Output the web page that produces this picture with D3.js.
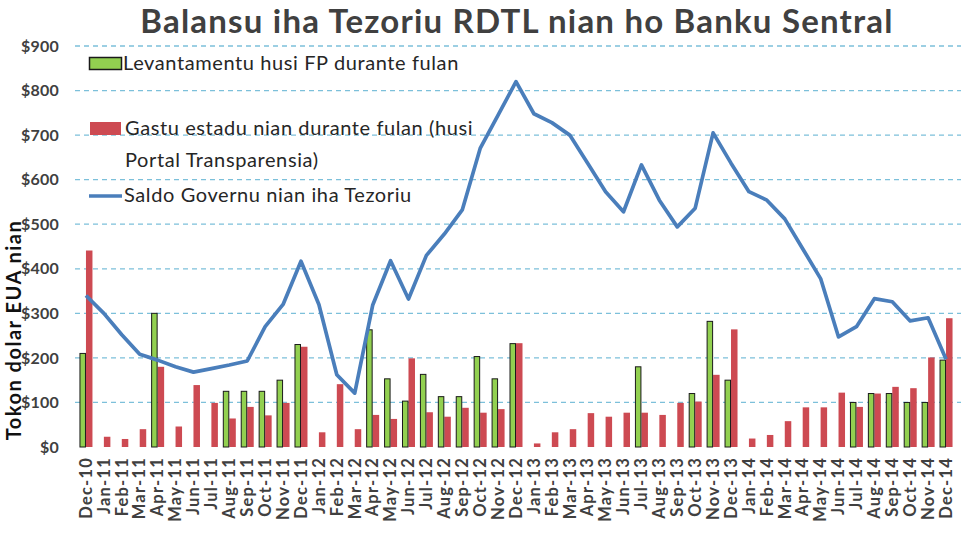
<!DOCTYPE html>
<html>
<head>
<meta charset="utf-8">
<script src="https://cdn.jsdelivr.net/npm/d3@7"></script>
<style>
  html, body { margin: 0; padding: 0; background: #fff; }
  svg { display: block; font-family: Lato, "Open Sans", sans-serif; }
</style>
</head>
<body>
<svg id="chart"></svg>
<script>
const greenColor = "#92d050"
const redColor = "#cd4a52"
const lineColor = "#4a7ebb"

// 1. DATA *******************************
const months = [
  "Dec-10",
  "Jan-11", "Feb-11", "Mar-11", "Apr-11", "May-11", "Jun-11",
  "Jul-11", "Aug-11", "Sep-11", "Oct-11", "Nov-11", "Dec-11",
  "Jan-12", "Feb-12", "Mar-12", "Apr-12", "May-12", "Jun-12",
  "Jul-12", "Aug-12", "Sep-12", "Oct-12", "Nov-12", "Dec-12",
  "Jan-13", "Feb-13", "Mar-13", "Apr-13", "May-13", "Jun-13",
  "Jul-13", "Aug-13", "Sep-13", "Oct-13", "Nov-13", "Dec-13",
  "Jan-14", "Feb-14", "Mar-14", "Apr-14", "May-14", "Jun-14",
  "Jul-14", "Aug-14", "Sep-14", "Oct-14", "Nov-14", "Dec-14"
]

// Levantamentu husi FP (green bars), null = no withdrawal that month
const levantamentu = [
  210,
  null, null, null, 300, null, null,
  null, 125, 125, 125, 150, 230,
  null, null, null, 263, 153, 103,
  163, 113, 113, 203, 153, 232,
  null, null, null, null, null, null,
  180, null, null, 120, 282, 150,
  null, null, null, null, null, null,
  100, 120, 120, 100, 100, 195
]

// Gastu estadu (red bars)
const gastu = [
  441,
  23, 18, 40, 180, 46, 139,
  99, 64, 90, 71, 99, 225,
  33, 141, 40, 72, 63, 199,
  78, 68, 88, 77, 85, 233,
  8, 33, 40, 76, 68, 77,
  77, 72, 99, 102, 162, 264,
  19, 27, 58, 89, 89, 122,
  90, 120, 135, 132, 201, 289
]

// Saldo Governu iha Tezoriu (blue line)
const saldo = [
  340,
  300, 252, 208, 195, 180, 168,
  176, 184, 193, 270, 320, 417,
  320, 162, 121, 318, 418, 332,
  430, 478, 532, 670, 745, 820,
  748, 728, 700, 637, 573, 528,
  633, 554, 494, 536, 705, 637,
  573, 554, 512, 445, 378, 247,
  270, 333, 326, 283, 290, 197
]

const yTicks = [0, 100, 200, 300, 400, 500, 600, 700, 800, 900]

const data = months.map((m, i) => ({
  month: m,
  lev: levantamentu[i],
  gastu: gastu[i],
  saldo: saldo[i]
}))

// 2. CANVAS *******************************
const W = 961
const H = 535
const plot = { left: 77, right: 955, top: 46, bottom: 447 }

const svg = d3.select("#chart")
  .attr("width", W)
  .attr("height", H)

svg.append("rect")
  .attr("width", W)
  .attr("height", H)
  .attr("fill", "#fff")

// 3. SCALES *******************************
const xScale = d3.scaleBand()
  .domain(months)
  .range([plot.left, plot.right])
  .padding(0)

const yScale = d3.scaleLinear()
  .domain([0, 900])
  .range([plot.bottom, plot.top])

const cx = d => xScale(d) + xScale.bandwidth() / 2
const barW = 6.5

// gridlines
svg.append("g")
  .selectAll("line")
  .data(yTicks.filter(d => d > 0))
  .enter().append("line")
  .attr("x1", 75)
  .attr("x2", W)
  .attr("y1", d => yScale(d))
  .attr("y2", d => yScale(d))
  .attr("stroke", "#7cc0da")
  .attr("stroke-width", 1.3)
  .attr("stroke-dasharray", "5,4")

// 4. AXES *******************************
const yAxis = svg.append("g")
  .attr("transform", "translate(60, 0)")
  .call(d3.axisLeft(yScale).tickValues(yTicks).tickSize(0).tickFormat(d => "$" + d))
yAxis.select(".domain").remove()
yAxis.selectAll("text")
  .attr("x", -1)
  .attr("fill", "#404040")
  .attr("font-size", "16px")
  .attr("font-weight", "bold")
  .attr("letter-spacing", "0.2px")
  .attr("font-family", "Lato, sans-serif")

const xAxis = svg.append("g")
  .attr("transform", `translate(0, ${plot.bottom})`)
  .call(d3.axisBottom(xScale).tickSize(0))
xAxis.select(".domain").remove()
xAxis.selectAll("text")
  .attr("transform", "rotate(-90)")
  .attr("text-anchor", "end")
  .attr("dy", "0.35em")
  .attr("x", -10)
  .attr("y", 0)
  .attr("fill", "#404040")
  .attr("font-size", "16.5px")
  .attr("font-weight", "bold")
  .attr("letter-spacing", "1.2px")
  .attr("font-family", "Lato, sans-serif")

svg.append("text")
  .attr("transform", "translate(21, 330) rotate(-90)")
  .attr("text-anchor", "middle")
  .attr("font-size", "20px")
  .attr("font-weight", "bold")
  .attr("letter-spacing", "1.5px")
  .attr("fill", "#111")
  .text("Tokon dolar EUA nian")

// 5. MARKS *******************************
const bars = svg.append("g")

bars.selectAll(".gastu")
  .data(data.filter(d => d.gastu != null))
  .enter().append("rect")
  .classed("gastu", true)
  .attr("x", d => cx(d.month))
  .attr("y", d => yScale(d.gastu))
  .attr("width", barW)
  .attr("height", d => yScale(0) - yScale(d.gastu))
  .attr("fill", redColor)

bars.selectAll(".lev")
  .data(data.filter(d => d.lev != null))
  .enter().append("rect")
  .classed("lev", true)
  .attr("x", d => cx(d.month) - barW + 0.5)
  .attr("y", d => yScale(d.lev))
  .attr("width", barW - 1)
  .attr("height", d => yScale(0) - yScale(d.lev))
  .attr("fill", greenColor)
  .attr("stroke", "#1a1a1a")
  .attr("stroke-width", 1)

const line = d3.line()
  .x(d => cx(d.month))
  .y(d => yScale(d.saldo))

svg.append("path")
  .datum(data)
  .attr("d", line)
  .attr("fill", "none")
  .attr("stroke", lineColor)
  .attr("stroke-width", 3.7)
  .attr("stroke-linejoin", "round")

// 6. TITLE + LEGEND *******************************
svg.append("text")
  .attr("x", 517)
  .attr("y", 33)
  .attr("text-anchor", "middle")
  .attr("font-size", "33px")
  .attr("font-weight", "bold")
  .attr("letter-spacing", "1.2px")
  .attr("fill", "#404040")
  .text("Balansu iha Tezoriu RDTL nian ho Banku Sentral")

const legend = svg.append("g")
  .attr("font-size", "20px")
  .attr("letter-spacing", "0.6px")
  .attr("fill", "#262626")

legend.append("rect")
  .attr("x", 89.5).attr("y", 57.5)
  .attr("width", 32).attr("height", 12)
  .attr("fill", greenColor)
  .attr("stroke", "#1a1a1a")
  .attr("stroke-width", 1.5)
legend.append("text")
  .attr("x", 123).attr("y", 63).attr("dy", "0.35em")
  .text("Levantamentu husi FP durante fulan")

legend.append("rect")
  .attr("x", 90).attr("y", 122)
  .attr("width", 31).attr("height", 13)
  .attr("fill", redColor)
legend.append("text")
  .attr("x", 125).attr("y", 128).attr("dy", "0.35em")
  .text("Gastu estadu nian durante fulan (husi")
legend.append("text")
  .attr("x", 125).attr("y", 160).attr("dy", "0.35em")
  .text("Portal Transparensia)")

legend.append("line")
  .attr("x1", 89).attr("x2", 122)
  .attr("y1", 196).attr("y2", 196)
  .attr("stroke", lineColor)
  .attr("stroke-width", 3.7)
legend.append("text")
  .attr("x", 124).attr("y", 195).attr("dy", "0.35em")
  .text("Saldo Governu nian iha Tezoriu")
</script>
</body>
</html>
